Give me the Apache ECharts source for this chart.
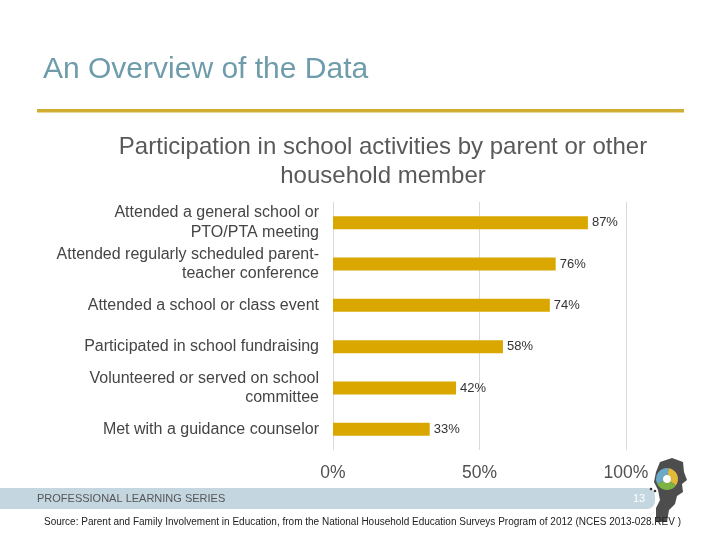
<!DOCTYPE html>
<html>
<head>
<meta charset="utf-8">
<script src="https://cdn.jsdelivr.net/npm/echarts@6/dist/echarts.min.js"></script>
<style>html,body{margin:0;padding:0;background:#fff}#c{width:720px;height:540px}</style>
</head>
<body>
<div id="c"></div>
<script>
const categories = [
  'Attended a general school or\nPTO/PTA meeting',
  'Attended regularly scheduled parent-\nteacher conference',
  'Attended a school or class event',
  'Participated in school fundraising',
  'Volunteered or served on school\ncommittee',
  'Met with a guidance counselor'
];
const values = [87, 76, 74, 58, 42, 33];
const xTicks = [0, 50, 100];

const chart = echarts.init(document.getElementById('c'), null, {renderer: 'canvas'});
const font = '"Liberation Sans", Arial, sans-serif';
chart.setOption({
  animation: false,
  backgroundColor: '#ffffff',
  textStyle: {fontFamily: font},
  title: {
    text: 'Participation in school activities by parent or other\nhousehold member',
    left: 378, top: 128, textAlign: 'center',
    textStyle: {fontSize: 24, fontWeight: 'normal', color: '#595959', lineHeight: 29, fontFamily: font}
  },
  grid: {left: 333, right: 94, top: 202, height: 248},
  xAxis: {
    type: 'value', min: xTicks[0], max: xTicks[xTicks.length - 1], interval: 50,
    axisLine: {show: false}, axisTick: {show: false},
    splitLine: {lineStyle: {color: '#d9d9d9', width: 1}},
    axisLabel: {formatter: '{value}%', fontSize: 17.5, color: '#505050', margin: 14, fontFamily: font}
  },
  yAxis: {
    type: 'category', data: categories, inverse: true,
    axisLine: {show: false}, axisTick: {show: false},
    axisLabel: {interval: 0, fontSize: 16, color: '#454545', lineHeight: 19.5, margin: 14, align: 'right', fontFamily: font}
  },
  series: [{
    type: 'bar', data: values, barWidth: 13,
    itemStyle: {color: '#d9a700'},
    label: {show: true, position: 'right', distance: 4, formatter: '{c}%', fontSize: 13, color: '#333333', fontFamily: font}
  }],
  graphic: [
    {type: 'text', left: 43, top: 55, style: {text: 'An Overview of the Data', fontSize: 30, fill: '#6e9cab', fontFamily: font}},
    {type: 'rect', shape: {x: 37, y: 109, width: 647, height: 3.5}, style: {fill: '#cfae32'}},
    {type: 'rect', shape: {x: 0, y: 488, width: 655, height: 21, r: [0, 8, 8, 0]}, style: {fill: '#c4d6e0'}},
    {type: 'text', x: 37, y: 498.5, style: {text: 'PROFESSIONAL LEARNING SERIES', fontSize: 11, fill: '#555555', textVerticalAlign: 'middle', fontFamily: font}},
    {type: 'text', x: 639, y: 498.5, style: {text: '13', fontSize: 11, fill: '#ffffff', textAlign: 'center', textVerticalAlign: 'middle', fontFamily: font}},
    {type: 'polygon', shape: {points: [[660,462],[672,458],[683,462],[684,472],[687,480],[682,484],[683,492],[677,496],[675,504],[669,510],[667,522],[656,522],[656,508],[660,500],[658,490],[654,482],[656,472]]}, style: {fill: '#4d4d4d'}},
    {type: 'sector', shape: {cx: 667, cy: 479, r0: 4, r: 11, startAngle: Math.PI*0.85, endAngle: Math.PI*1.55}, style: {fill: '#6aa9c8'}},
    {type: 'sector', shape: {cx: 667, cy: 479, r0: 4, r: 11, startAngle: Math.PI*1.55, endAngle: Math.PI*2.2}, style: {fill: '#e3b93a'}},
    {type: 'sector', shape: {cx: 667, cy: 479, r0: 4, r: 11, startAngle: Math.PI*0.2, endAngle: Math.PI*0.85}, style: {fill: '#7db342'}},
    {type: 'circle', shape: {cx: 667, cy: 479, r: 4}, style: {fill: '#ffffff'}},
    {type: 'circle', shape: {cx: 651, cy: 489, r: 1.3}, style: {fill: '#333'}},
    {type: 'circle', shape: {cx: 655, cy: 491, r: 1.3}, style: {fill: '#333'}},
    {type: 'text', x: 44, y: 522, style: {text: 'Source: Parent and Family Involvement in Education, from the National Household Education Surveys Program of 2012 (NCES 2013-028.REV )', fontSize: 10, fill: '#222222', textVerticalAlign: 'middle', fontFamily: font}}
  ]
});
</script>
</body>
</html>
